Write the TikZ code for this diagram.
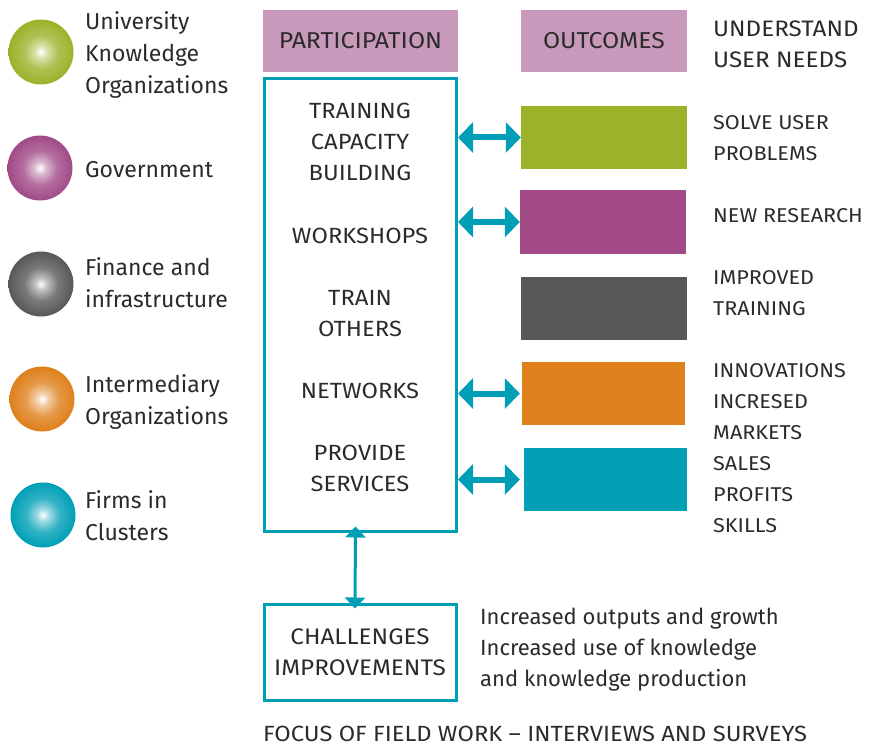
\documentclass[tikz,border=0pt]{standalone}
\usepackage{fontspec}
\IfFontExistsTF{Fira Sans Book}{\def\basefam{Fira Sans Book}}{\def\basefam{Fira Sans}}
\setmainfont{\basefam}
\newfontfamily\capsfont{\basefam}[FakeStretch=1.08]
\usetikzlibrary{arrows.meta}

\definecolor{hdrpink}{HTML}{C999BC}
\definecolor{cgreen}{HTML}{9BB229}
\definecolor{cpurple}{HTML}{A14A87}
\definecolor{cgray}{HTML}{58585A}
\definecolor{corange}{HTML}{DE801B}
\definecolor{cteal}{HTML}{009FB6}
\definecolor{ink}{HTML}{2B2B2B}

% glossy spheres: white highlight in the middle, full colour at the rim
\newcommand\declareball[2]{%
  \pgfdeclareradialshading{#1}{\pgfpointorigin}{%
    color(0bp)=(white); color(5bp)=(#2!40!white); color(13bp)=(#2!80!white);
    color(25bp)=(#2); color(50bp)=(#2)}}
\declareball{ballgreen}{cgreen}
\declareball{ballpurple}{cpurple}
\declareball{ballgray}{cgray}
\declareball{ballorange}{corange}
\declareball{ballteal}{cteal}

\tikzset{
  ball/.style={circle, minimum size=65pt, inner sep=0pt, shading=#1},
  lbl/.style={anchor=west, align=left, inner sep=0pt, text=ink, font=\fontsize{23}{32}\selectfont},
  hdr/.style={fill=hdrpink, inner sep=0pt, minimum height=62pt, text=ink, font=\capsfont\fontsize{23}{31}\selectfont},
  frame/.style={draw=cteal, line width=3pt, inner sep=0pt},
  cbox/.style={fill=#1, inner sep=0pt, minimum width=166pt, minimum height=63pt},
  mtext/.style={align=center, inner sep=0pt, text=ink, font=\capsfont\fontsize{22}{31}\selectfont},
  rtext/.style={anchor=west, align=left, inner sep=0pt, text=ink, font=\capsfont\fontsize{20}{31}\selectfont},
  bigarrow/.style={draw=cteal, line width=6pt, {Triangle[width=30pt,length=15pt]}-{Triangle[width=30pt,length=15pt]}},
  thinarrow/.style={draw=cteal, line width=3pt, {Triangle[width=20pt,length=11pt]}-{Triangle[width=20pt,length=11pt]}},
}

\begin{document}
\begin{tikzpicture}[x=1pt, y=-1pt]
\useasboundingbox (0,0) rectangle (875,746);

% legend of actors
\node[ball=ballgreen]  (b1) at (41,52)  {};
\node[ball=ballpurple] (b2) at (40,168) {};
\node[ball=ballgray]   (b3) at (41,284) {};
\node[ball=ballorange] (b4) at (42,399) {};
\node[ball=ballteal]   (b5) at (43,515) {};

\node[lbl] (l1) at (85,55)    {University\\Knowledge\\Organizations};
\node[lbl] (l2) at (85,169.5) {Government};
\node[lbl] (l3) at (85,283)   {Finance and\\infrastructure};
\node[lbl] (l4) at (85,402)   {Intermediary\\Organizations};
\node[lbl] (l5) at (85,516)   {Firms in\\Clusters};

% column headers
\node[hdr, minimum width=195pt] (hpart) at (360.5,41) {PARTICIPATION};
\node[hdr, minimum width=166pt] (hout)  at (604,41)   {OUTCOMES};

% participation activities
\node[frame, minimum width=192pt, minimum height=452pt] (main) at (360.5,305) {};
\node[mtext] (t1) at (360,142)   {TRAINING\\CAPACITY\\BUILDING};
\node[mtext] (t2) at (360,236)   {WORKSHOPS};
\node[mtext] (t3) at (360,313.5) {TRAIN\\OTHERS};
\node[mtext] (t4) at (360,391)   {NETWORKS};
\node[mtext] (t5) at (360,468.5) {PROVIDE\\SERVICES};

% outcome blocks
\node[cbox=cgreen]  (o1) at (604,137.5) {};
\node[cbox=cpurple] (o2) at (603,222)   {};
\node[cbox=cgray]   (o3) at (604,308)   {};
\node[cbox=corange, minimum width=163pt] (o4) at (603.5,393.5) {};
\node[cbox=cteal, minimum width=163pt]   (o5) at (605.5,479.5) {};

% links between activities and outcomes
\draw[bigarrow] (main.east |- o1.west) -- (o1.west);
\draw[bigarrow] (main.east |- o2.west) -- (o2.west);
\draw[bigarrow] (main.east |- o4.west) -- ([xshift=-2pt]o4.west);
\draw[bigarrow] (main.east |- o5.west) -- ([xshift=-4pt]o5.west);

% outcome descriptions
\node[rtext, font=\capsfont\fontsize{22.4}{31}\selectfont] (r0) at (713,44.5) {UNDERSTAND\\USER NEEDS};
\node[rtext] (r1) at (713,138.5) {SOLVE USER\\PROBLEMS};
\node[rtext] (r2) at (713,216)   {NEW RESEARCH};
\node[rtext] (r3) at (713,293.5) {IMPROVED\\TRAINING};
\node[rtext] (r4) at (713,448.5) {INNOVATIONS\\INCRESED\\MARKETS\\SALES\\PROFITS\\SKILLS};

% feedback loop
\node[frame, minimum width=192pt, minimum height=96pt] (chal) at (360,652) {};
\node[mtext, font=\capsfont\fontsize{22.5}{31}\selectfont] (tc) at (360,652.5) {CHALLENGES\\IMPROVEMENTS};
\draw[thinarrow] ([shift={(-5pt,6pt)}]main.south) -- ([shift={(-5pt,-6pt)}]chal.north);

\node[lbl, font=\fontsize{22}{31}\selectfont] (res) at (480,650) {Increased outputs and growth\\Increased use of knowledge\\and knowledge production};

\node[anchor=west, inner sep=0pt, text=ink, font=\capsfont\fontsize{22}{31}\selectfont] (focus) at (263,734) {FOCUS OF FIELD WORK – INTERVIEWS AND SURVEYS};
\end{tikzpicture}
\end{document}
